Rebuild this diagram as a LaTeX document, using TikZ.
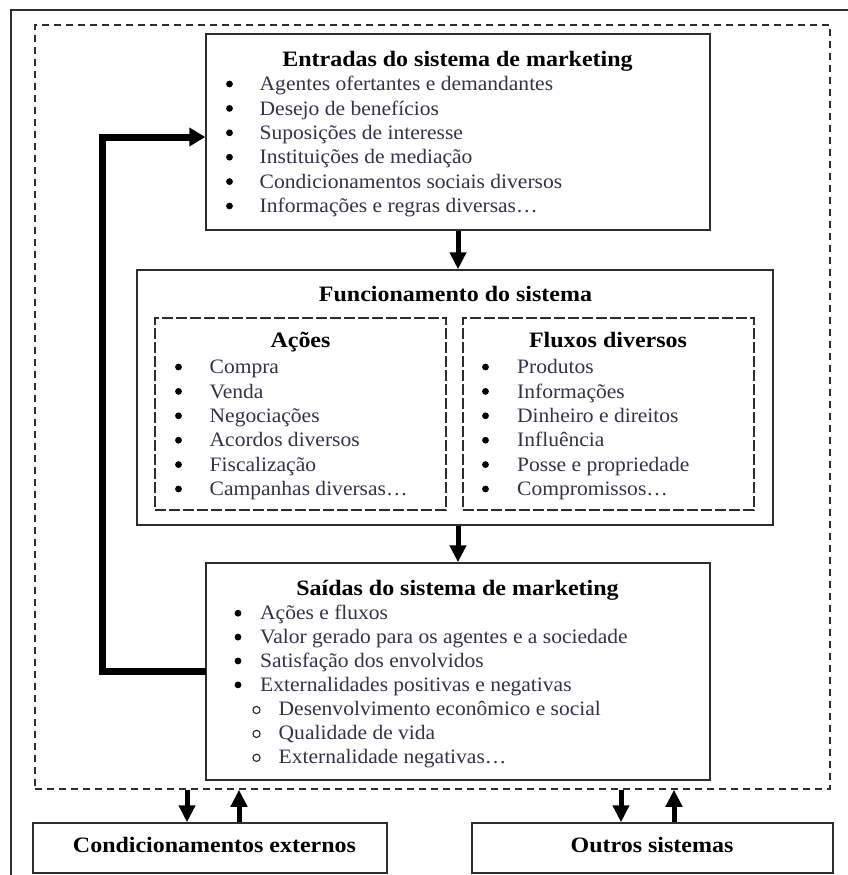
\documentclass[tikz,border=0pt]{standalone}
\usepackage{fontspec}
\setmainfont{Liberation Serif}
\newfontfamily\headfont{Liberation Serif}[FakeStretch=1.09]
\newfontfamily\listfont{Liberation Serif}[FakeStretch=1.05]
\usetikzlibrary{arrows.meta}
\definecolor{frame}{RGB}{45,45,45}
\definecolor{itemtext}{RGB}{52,50,70}
\begin{document}
\begin{tikzpicture}[x=1pt,y=-1pt,
  box/.style={draw=frame, line width=1.5pt, inner sep=0pt, fill=white},
  dbox/.style={draw=frame, line width=1.5pt, dash pattern=on 11pt off 3pt, inner sep=0pt},
  sysbox/.style={draw=frame, line width=1.5pt, dash pattern=on 7pt off 5pt, inner sep=0pt},
  title/.style={font=\headfont\fontsize{22}{24}\selectfont\bfseries, anchor=base, text=black, inner sep=0pt},
  item/.style={font=\listfont\fontsize{20.5}{24}\selectfont, anchor=base west, text=itemtext, inner sep=0pt},
  bul/.style={fill=black},
  subbul/.style={draw=black!85, line width=1.1pt},
  flow/.style={line width=5pt, -{Triangle[length=17pt,width=16pt]}},
  loopflow/.style={line width=7pt, -{Triangle[length=16pt,width=18pt]}}]

\useasboundingbox (0,0) rectangle (848,875);
\fill[white] (0,0) rectangle (848,875);

% page frame (left and top edges)
\draw[frame, line width=1.6pt] (11,875) -- (11,10) -- (848,10);

% system boundary
\node[sysbox, minimum width=795pt, minimum height=764pt] (sistema) at (432.5,407) {};

% main boxes
\node[box, minimum width=504pt, minimum height=196pt] (entradas) at (458,132) {};
\node[box, minimum width=636pt, minimum height=255pt] (func) at (455,397.5) {};
\node[dbox, minimum width=291pt, minimum height=192pt] (acoes) at (300.5,414) {};
\node[dbox, minimum width=291pt, minimum height=192pt] (fluxos) at (608.5,414) {};
\node[box, minimum width=504pt, minimum height=217pt] (saidas) at (458,671.5) {};
\node[box, minimum width=354pt, minimum height=50pt] (cond) at (210,848) {};
\node[box, minimum width=361pt, minimum height=50pt] (outros) at (652.5,848) {};

% inputs
\node[title] (entradas-t) at (457.5,66.3) {Entradas do sistema de marketing};
\foreach \t [count=\i] in {Agentes ofertantes e demandantes, Desejo de benefícios,
  Suposições de interesse, Instituições de mediação,
  Condicionamentos sociais diversos, Informações e regras diversas…} {
  \node[item] (entradas-\i) at (259.5,{66.3+24.4*\i}) {\t};
  \fill[bul] (229.5,{59.6+24.4*\i}) circle (3.4);
}

% system operation
\node[title] (func-t) at (455.5,301.5) {Funcionamento do sistema};
\node[title] (acoes-t) at (300.5,347) {Ações};
\node[title] (fluxos-t) at (608,347) {Fluxos diversos};
\foreach \t [count=\i] in {Compra, Venda, Negociações, Acordos diversos,
  Fiscalização, Campanhas diversas…} {
  \node[item] (acoes-\i) at (209.5,{349.3+24.4*\i}) {\t};
  \fill[bul] (178.5,{342.6+24.4*\i}) circle (3.4);
}
\foreach \t [count=\i] in {Produtos, Informações, Dinheiro e direitos, Influência,
  Posse e propriedade, Compromissos…} {
  \node[item] (fluxos-\i) at (517,{349.3+24.4*\i}) {\t};
  \fill[bul] (485.5,{342.6+24.4*\i}) circle (3.4);
}

% outputs
\node[title] (saidas-t) at (457.5,595) {Saídas do sistema de marketing};
\foreach \t [count=\i] in {Ações e fluxos, Valor gerado para os agentes e a sociedade,
  Satisfação dos envolvidos, Externalidades positivas e negativas} {
  \node[item] (saidas-\i) at (260,{596+23.9*\i}) {\t};
  \fill[bul] (238,{589.3+23.9*\i}) circle (3.4);
}
\foreach \t [count=\i] in {Desenvolvimento econômico e social, Qualidade de vida,
  Externalidade negativas…} {
  \node[item] (saidas-s\i) at (278.5,{691.6+23.9*\i}) {\t};
  \draw[subbul] (256.5,{686.1+23.9*\i}) circle (3.6);
}

% external boxes
\node[title] (cond-t) at (214.5,852.3) {Condicionamentos externos};
\node[title] (outros-t) at (652,852) {Outros sistemas};

% flows
\draw[flow] (entradas.south) -- (entradas.south |- func.north);
\draw[flow] (saidas.north |- func.south) -- (saidas.north);

\coordinate (loopcorner) at (102,137);
\draw[loopflow] ([xshift=1pt]saidas.west) -| (loopcorner) -- (entradas.west |- loopcorner);

\coordinate (c-down) at (187,0);
\coordinate (c-up) at (239,0);
\coordinate (o-down) at (621,0);
\coordinate (o-up) at (674,0);
\draw[flow] (sistema.south -| c-down) -- (cond.north -| c-down);
\draw[flow] (cond.north -| c-up) -- (sistema.south -| c-up);
\draw[flow] (sistema.south -| o-down) -- (outros.north -| o-down);
\draw[flow] (outros.north -| o-up) -- (sistema.south -| o-up);

\end{tikzpicture}
\end{document}
